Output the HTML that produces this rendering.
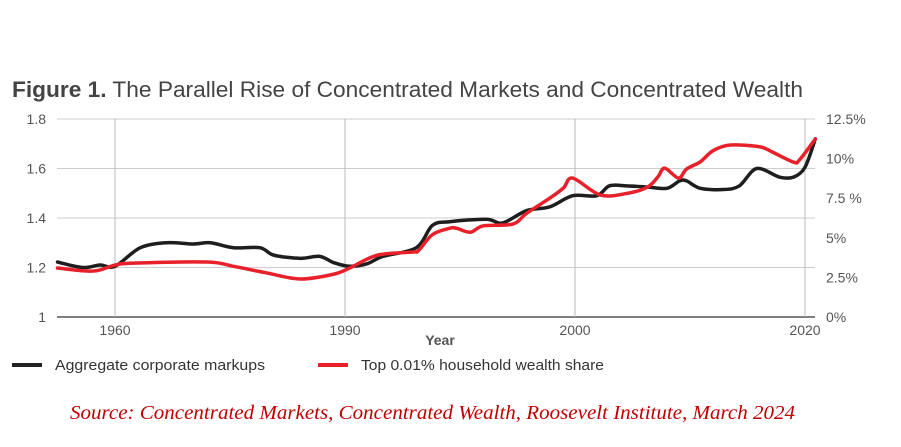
<!DOCTYPE html>
<html><head><meta charset="utf-8"><style>
body{margin:0;background:#fff;width:901px;height:442px;overflow:hidden;font-family:"Liberation Sans",sans-serif}
</style></head><body>
<svg width="901" height="442" xmlns="http://www.w3.org/2000/svg">
<text x="12" y="97" font-size="22" fill="#444" textLength="791" lengthAdjust="spacingAndGlyphs"><tspan font-weight="bold">Figure 1.</tspan> The Parallel Rise of Concentrated Markets and Concentrated Wealth</text>
<g id="grid"></g>
<g id="lines"></g>
<text x="440" y="345" font-size="14" font-weight="bold" fill="#555" text-anchor="middle">Year</text>
<line x1="12" y1="365" x2="42" y2="365" stroke="#222" stroke-width="4"/>
<text x="55" y="370" font-size="14.5" fill="#333" textLength="210" lengthAdjust="spacingAndGlyphs">Aggregate corporate markups</text>
<line x1="318" y1="365" x2="348" y2="365" stroke="#e8202a" stroke-width="4"/>
<text x="361" y="370" font-size="14.5" fill="#333" textLength="243" lengthAdjust="spacingAndGlyphs">Top 0.01% household wealth share</text>
<text x="70" y="419" font-size="20" font-style="italic" fill="#c00000" textLength="725" lengthAdjust="spacingAndGlyphs" font-family="Liberation Serif, serif">Source: Concentrated Markets, Concentrated Wealth, Roosevelt Institute, March 2024</text>
</svg>
<script>
const leftTicks=[1,1.2,1.4,1.6,1.8];
const rightTicks=[0,2.5,5,7.5,10,12.5];
const rightLabels=["0%","2.5%","5%","7.5 %","10%","12.5%"];
const xTickYears=[1960,1980,2000,2020];
const xTickLabels=["1960","1990","2000","2020"];
const markupYears=[1955,1957.2,1958.7,1960,1962.2,1964.5,1966.8,1968.3,1970.3,1972.6,1973.8,1976.1,1977.8,1979,1980.4,1981.9,1983.3,1986.2,1987.6,1989.1,1992.3,1993.7,1995.8,1997.8,1999.8,2001.9,2003,2004.5,2006.3,2008,2009.1,2009.7,2010.9,2012.9,2014.3,2015.8,2017.8,2019,2020,2020.9];
const markupValues=[1.222,1.20,1.21,1.205,1.28,1.30,1.295,1.30,1.28,1.28,1.25,1.237,1.245,1.22,1.205,1.215,1.245,1.28,1.37,1.385,1.395,1.38,1.43,1.445,1.49,1.49,1.53,1.53,1.525,1.52,1.55,1.55,1.52,1.515,1.53,1.60,1.565,1.565,1.605,1.72];
const wealthYears=[1955,1958.1,1960,1961.6,1968,1970.3,1973.2,1976.1,1979,1980.4,1982.8,1985.9,1986.4,1987.6,1989.1,1989.7,1990.9,1992,1994.6,1995.8,1997.8,1999,1999.8,2002.2,2004.5,2006.3,2007.2,2007.8,2009,2009.7,2010.9,2012,2013.5,2016.1,2017.2,2019,2019.5,2020.9];
const wealthValues=[3.09,2.9,3.28,3.4,3.47,3.2,2.78,2.4,2.7,3.09,3.9,4.1,4.2,5.2,5.6,5.6,5.35,5.75,5.87,6.55,7.5,8.15,8.77,7.7,7.8,8.2,8.84,9.4,8.77,9.34,9.8,10.5,10.86,10.74,10.4,9.78,9.9,11.24];
const NS="http://www.w3.org/2000/svg";
const X0=57,X1=815,Y0=317,Y1=119;
const xs=y=>115+(y-1960)*11.5;
const yl=v=>Y0-(v-1)/0.8*(Y0-Y1);
const yr=v=>Y0-v/12.5*(Y0-Y1);
function mk(t,a,p){const e=document.createElementNS(NS,t);for(const k in a)e.setAttribute(k,a[k]);p.appendChild(e);return e;}
function smooth(pts){let d='M'+pts[0][0]+','+pts[0][1];
  for(let i=0;i<pts.length-1;i++){const p0=pts[Math.max(0,i-1)],p1=pts[i],p2=pts[i+1],p3=pts[Math.min(pts.length-1,i+2)];
    const k=0.16;
    d+=' C'+(p1[0]+(p2[0]-p0[0])*k)+','+(p1[1]+(p2[1]-p0[1])*k)+' '+(p2[0]-(p3[0]-p1[0])*k)+','+(p2[1]-(p3[1]-p1[1])*k)+' '+p2[0]+','+p2[1];}
  return d;}
const g=document.getElementById('grid');
leftTicks.forEach(v=>{
  const l=mk('line',{x1:X0,x2:X1,y1:yl(v),y2:yl(v),stroke:v===1?'#555':'#ccc','stroke-width':v===1?1.5:1},g);
  
  
  const t=mk('text',{x:46,y:yl(v)+5,'font-size':14,fill:'#555','text-anchor':'end'},g);t.textContent=String(v);
  
  
});
rightTicks.forEach((v,i)=>{
  const t=mk('text',{x:826,y:yr(v)+5,'font-size':14,fill:'#555'},g);t.textContent=rightLabels[i];
  
  
});
xTickYears.forEach((y,i)=>{
  const l=mk('line',{x1:xs(y),x2:xs(y),y1:Y1,y2:Y0,stroke:'#bbb','stroke-width':1},g);
  
  
  const t=mk('text',{x:xs(y),y:Y0+18,'font-size':14,fill:'#555','text-anchor':'middle'},g);t.textContent=xTickLabels[i];
  
  
});
const L=document.getElementById('lines');
const pb=mk('path',{d:smooth(markupYears.map((y,i)=>[xs(y),yl(markupValues[i])])),fill:'none',stroke:'#1e1e1e','stroke-width':3.5,'stroke-linejoin':'round','stroke-linecap':'round'},L);


const pr=mk('path',{d:smooth(wealthYears.map((y,i)=>[xs(y),yr(wealthValues[i])])),fill:'none',stroke:'#e8202a','stroke-width':3.5,'stroke-linejoin':'round','stroke-linecap':'round'},L);


</script>
</body></html>
